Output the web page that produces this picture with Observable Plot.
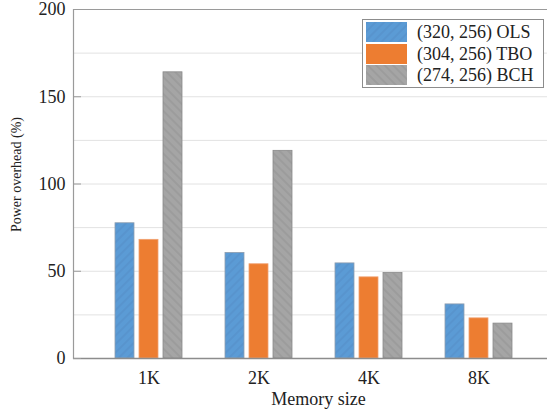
<!DOCTYPE html>
<html><head><meta charset="utf-8">
<script src="https://cdn.jsdelivr.net/npm/d3@7"></script>
<script src="https://cdn.jsdelivr.net/npm/@observablehq/plot@0.6"></script>
<style>
html,body{margin:0;padding:0;background:#fff;}
#chart{position:relative;width:547px;height:414px;font-family:"Liberation Serif",serif;color:#222;}
#legend{position:absolute;left:362px;top:19px;width:177px;height:66px;border:1px solid #8c8c8c;background:#fff;padding:1px 0 0 3px;box-sizing:content-box;}
.row{display:flex;align-items:center;height:21.7px;font-size:18px;line-height:18px;white-space:nowrap;}
.sw{width:41px;height:20px;margin-right:10px;display:block;}
</style></head><body>
<svg width="0" height="0" style="position:absolute">
<defs>
<pattern id="hatchBlue" patternUnits="userSpaceOnUse" width="6" height="6" patternTransform="rotate(45)">
<rect width="6" height="6" fill="#5B9BD5"/><line x1="1" y1="0" x2="1" y2="6" stroke="#5590C9" stroke-width="1.2"/>
</pattern>
<pattern id="hatchGray" patternUnits="userSpaceOnUse" width="6" height="6" patternTransform="rotate(-45)">
<rect width="6" height="6" fill="#A5A5A5"/><line x1="1" y1="0" x2="1" y2="6" stroke="#969696" stroke-width="1.2"/>
</pattern>
</defs></svg>
<div id="chart"><div id="legend"></div></div>
<script>
const categories = ["1K", "2K", "4K", "8K"];
const seriesNames = ["(320, 256) OLS", "(304, 256) TBO", "(274, 256) BCH"];
const olsValues = [77.5, 60.5, 54.5, 31];
const tboValues = [68, 54, 46.5, 23];
const bchValues = [164, 119, 49, 20];
const yTickValues = [0, 50, 100, 150, 200];
const gridValues = [0, 25, 50, 75, 100, 125, 150, 175, 200];
const yDomain = [0, 200];
const xLabel = "Memory size";
const yLabel = "Power overhead (%)";

const seriesValues = [olsValues, tboValues, bchValues];
const data = categories.flatMap((c, i) => seriesNames.map((s, k) => ({cat: c, series: s, value: seriesValues[k][i]})));

const fills = ["url(#hatchBlue)", "#ED7D31", "url(#hatchGray)"];
const strokes = ["#8E9DAE", "#F0A070", "#8A8A8A"];
const barW = 19, pitch = 24, groupW = 67;

const chart = Plot.plot({
  width: 547,
  height: 414,
  marginTop: 9,
  marginBottom: 56,
  marginLeft: 73,
  marginRight: 0,
  style: {fontFamily: "'Liberation Serif', serif", color: "#222", background: "#fff"},
  x: {domain: categories, paddingInner: 0.3937, paddingOuter: 0.3417, align: 0.543, axis: null},
  y: {domain: yDomain, axis: null},
  marks: [
    Plot.gridY(gridValues, {stroke: "#e2e2e2", strokeOpacity: 1}),
    Plot.ruleY([yDomain[1]], {stroke: "#9a9a9a", strokeWidth: 1.2}),
    ...seriesNames.map((s, k) => Plot.barY(data.filter(d => d.series === s), {
      x: "cat", y: "value", fill: fills[k], stroke: strokes[k], strokeWidth: 0.8,
      insetLeft: k * pitch, insetRight: groupW - k * pitch - barW
    })),
    Plot.frame({anchor: "left", stroke: "#9a9a9a", strokeWidth: 1.2}),
    Plot.ruleY([0], {stroke: "#8c8c8c", strokeWidth: 1.6}),
    Plot.axisY(yTickValues, {tickSize: -8, tickPadding: 16, fontSize: 18, stroke: "#9a9a9a", fill: "#222", label: null}),
    Plot.axisX({tickSize: 0, tickPadding: 13, fontSize: 18, fill: "#222", label: null}),
    Plot.text([xLabel], {frameAnchor: "bottom", dx: 8, dy: 41, fontSize: 18, lineAnchor: "middle", fill: "#222"}),
    Plot.text([yLabel], {frameAnchor: "left", rotate: -90, dx: -57, dy: -9.5, fontSize: 14, textAnchor: "middle", lineAnchor: "middle", fill: "#222"})
  ]
});
const container = document.getElementById("chart");
container.insertBefore(chart, container.firstChild);

const legend = document.getElementById("legend");
seriesNames.forEach((s, k) => {
  const row = document.createElement("div");
  row.className = "row";
  row.innerHTML = `<svg class="sw" width="41" height="20"><rect width="41" height="20" fill="${fills[k]}"/></svg><span>${s}</span>`;
  legend.appendChild(row);
});
</script>
</body></html>
